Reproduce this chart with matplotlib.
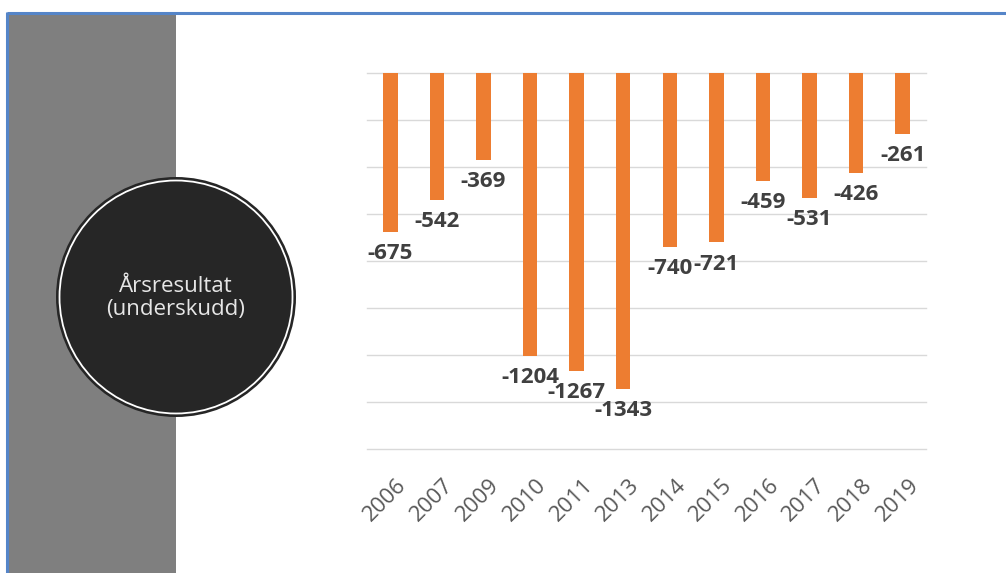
import matplotlib
matplotlib.use("Agg")
import matplotlib.pyplot as plt
import matplotlib.transforms as mtransforms
from matplotlib.patches import Rectangle, Circle

years = ['2006', '2007', '2009', '2010', '2011', '2013', '2014', '2015', '2016', '2017', '2018', '2019']
result = [-675, -542, -369, -1204, -1267, -1343, -740, -721, -459, -531, -426, -261]

W, H = 1006, 573
fig = plt.figure(figsize=(W / 100, H / 100), dpi=100)
fig.patch.set_facecolor('white')

# background / decoration layer in pixel coords
bg = fig.add_axes([0, 0, 1, 1], zorder=0)
bg.set_xlim(0, W)
bg.set_ylim(H, 0)
bg.axis('off')
bg.add_patch(Rectangle((9, 14), 167, H - 14, color='#7f7f7f', lw=0))
bg.plot([7, W], [12.5, 12.5], color='#5585c8', lw=2.2, solid_capstyle='butt')
bg.plot([7.5, 7.5], [12, H], color='#5585c8', lw=2.2, solid_capstyle='butt')
bg.add_patch(Circle((176, 297), 120, facecolor='#262626', edgecolor='none'))
bg.add_patch(Circle((176, 297), 116.5, facecolor='none', edgecolor='white', lw=1.3))
bg.text(176, 298, 'Årsresultat\n(underskudd)', ha='center', va='center',
        color='#e6e6e6', fontsize=16, family='Open Sans', fontweight='normal',
        linespacing=1.1)

# chart
ax = fig.add_axes([367 / W, (H - 449) / H, (926 - 367) / W, (449 - 73) / H],
                  zorder=1)
ax.set_facecolor('none')
x = list(range(len(years)))
ax.bar(x, result, width=0.31, color='#ed7d31', zorder=2)
ax.set_xlim(-0.5, len(years) - 0.5)
ax.set_ylim(-1600, 0)
ax.set_yticks(range(-1600, 1, 200))
ax.yaxis.grid(True, color='#d9d9d9', lw=1)
for gl in ax.get_ygridlines():
    gl.set_clip_on(False)
ax.set_axisbelow(True)
ax.tick_params(axis='y', left=False, labelleft=False)
ax.tick_params(axis='x', bottom=False, pad=15)
for s in ax.spines.values():
    s.set_visible(False)

ax.set_xticks(x)
ax.set_xticklabels(years, rotation=45, ha='right', rotation_mode='anchor',
                   fontsize=16, color='#595959', family='Open Sans')
shift = mtransforms.ScaledTranslation(4 / 72, 0, fig.dpi_scale_trans)
for lab in ax.get_xticklabels():
    lab.set_transform(lab.get_transform() + shift)

for xp, y in zip(x, result):
    ax.annotate('%d' % y, (xp, y), xytext=(0, -8), textcoords='offset points',
                ha='center', va='top', fontsize=16, fontweight='bold',
                color='#404040', family='Open Sans')

fig.savefig('out.png', dpi=100)
